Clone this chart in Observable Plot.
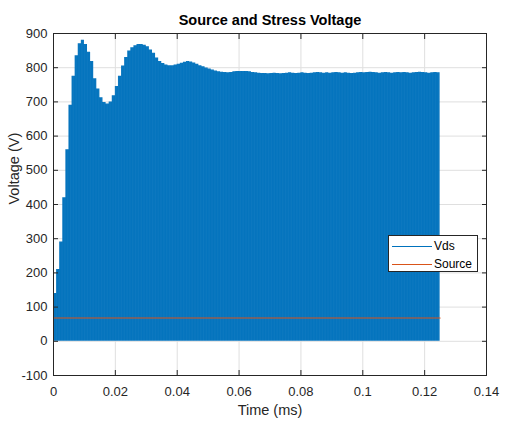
<!DOCTYPE html>
<html><head><meta charset="utf-8">
<script src="https://cdn.jsdelivr.net/npm/d3@7"></script>
<script src="https://cdn.jsdelivr.net/npm/@observablehq/plot@0.6"></script>
<style>
body{margin:0;background:#fff;}
#wrap{position:relative;width:510px;height:422px;font-family:"Liberation Sans",Arial,Helvetica,sans-serif;}
#legend{position:absolute;left:388px;top:235px;width:90px;height:37px;border:1px solid #262626;background:#fff;font-size:12px;color:#000;box-sizing:border-box;}
.row{position:absolute;left:3px;height:16px;display:flex;align-items:center;white-space:nowrap;}
.sw{width:40px;height:0;border-top:1px solid;margin-right:2px;}
</style></head>
<body><div id="wrap"><div id="legend"></div></div>
<script>
// Vds peak voltage of each switching cycle (V)
const vdsPeaks = [
  140,210,290,420,560,690,775,835,870,880,
  868,845,818,768,738,712,698,694,700,718,
  745,775,805,830,849,858,864,868,868,866,
  861,852,842,828,818,812,808,806,806,808,
  810,813,816,818,817,814,810,806,803,799,
  796,793,790,788,787,786,785,786,788,789,
  789,789,789,788,786,785,784,783,
  783,782,783,784,783,782,783,784,785,784,
  783,784,785,784,783,784,785,786,785,784,
  785,784,785,786,785,784,785,784,783,784,
  785,786,785,786,787,786,785,784,785,786,
  785,784,785,786,785,786,785,784,785,786,
  787,786,785,784,785,786,785
];
const vdsLow = 0;              // off-state level of Vds (V)
const switchPeriod = 0.001;    // ms per switching cycle
const sourceTimes = [0, 0.125];
const sourceVolts = [68, 68];
const xTicks = [0, 0.02, 0.04, 0.06, 0.08, 0.1, 0.12, 0.14];
const yTicks = [-100, 0, 100, 200, 300, 400, 500, 600, 700, 800, 900];
const seriesNames = ["Vds", "Source"];
const seriesColors = ["#0072BD", "#D95319"];

// tables built from the arrays above
const peakRows = vdsPeaks.map((p, i) => ({t: i * switchPeriod, v: p}));
peakRows.push({t: vdsPeaks.length * switchPeriod, v: vdsPeaks[vdsPeaks.length - 1]});
const vdsRows = [];
vdsPeaks.forEach((p, i) => {
  const t0 = i * switchPeriod, t1 = t0 + switchPeriod / 2;
  vdsRows.push({t: t0, v: vdsLow}, {t: t0, v: p}, {t: t1, v: p}, {t: t1, v: vdsLow});
});
vdsRows.push({t: vdsPeaks.length * switchPeriod, v: vdsLow});
const sourceRows = sourceTimes.map((t, i) => ({t, v: sourceVolts[i]}));

const font = '"Liberation Sans", Arial, Helvetica, sans-serif';
const fmt = d => String(d);
const plot = Plot.plot({
  width: 510, height: 422,
  marginLeft: 53, marginRight: 24, marginTop: 33, marginBottom: 47,
  style: {fontFamily: font, fontSize: "13px", color: "#262626", background: "#fff"},
  x: {domain: [0, 0.14]},
  y: {domain: [-100, 900]},
  marks: [
    Plot.gridX(xTicks, {stroke: "#dfdfdf", strokeOpacity: 1}),
    Plot.gridY(yTicks, {stroke: "#dfdfdf", strokeOpacity: 1}),
    Plot.areaY(peakRows, {x: "t", y1: vdsLow, y2: "v", curve: "step-after", fill: seriesColors[0]}),
    Plot.line(vdsRows, {x: "t", y: "v", stroke: "#ffffff", strokeOpacity: 0.1, strokeWidth: 0.5}),
    Plot.line(sourceRows, {x: "t", y: "v", stroke: seriesColors[1], strokeWidth: 1.1}),
    Plot.frame({stroke: "#262626"}),
    Plot.axisX(xTicks, {anchor: "bottom", tickSize: 0, tickPadding: 11, tickFormat: fmt, label: null, fill: "#262626"}),
    Plot.axisX(xTicks, {anchor: "bottom", tickSize: -5, tickFormat: () => "", label: null, stroke: "#262626"}),
    Plot.axisX(xTicks, {anchor: "top", tickSize: -5, tickFormat: () => "", label: null, stroke: "#262626"}),
    Plot.axisY(yTicks, {anchor: "left", tickSize: 0, tickPadding: 6, tickFormat: fmt, label: null, fill: "#262626"}),
    Plot.axisY(yTicks, {anchor: "left", tickSize: -5, tickFormat: () => "", label: null, stroke: "#262626"}),
    Plot.axisY(yTicks, {anchor: "right", tickSize: -5, tickFormat: () => "", label: null, stroke: "#262626"}),
    Plot.text(["Source and Stress Voltage"], {frameAnchor: "top", text: d => d, dy: -19, fontWeight: "bold", fontSize: 14.5, fill: "#000"}),
    Plot.text(["Time (ms)"], {frameAnchor: "bottom", text: d => d, dy: 39, fontSize: 14.5, fill: "#262626"}),
    Plot.text(["Voltage (V)"], {frameAnchor: "left", text: d => d, dx: -39, rotate: -90, fontSize: 14.5, fill: "#262626"})
  ]
});
document.getElementById("wrap").prepend(plot);

const legend = document.getElementById("legend");
seriesNames.forEach((name, i) => {
  const row = document.createElement("div");
  row.className = "row";
  row.style.top = (2 + i * 18) + "px";
  const sw = document.createElement("span");
  sw.className = "sw";
  sw.style.borderTopColor = seriesColors[i];
  row.appendChild(sw);
  row.appendChild(document.createTextNode(name));
  legend.appendChild(row);
});
</script>
</body></html>
